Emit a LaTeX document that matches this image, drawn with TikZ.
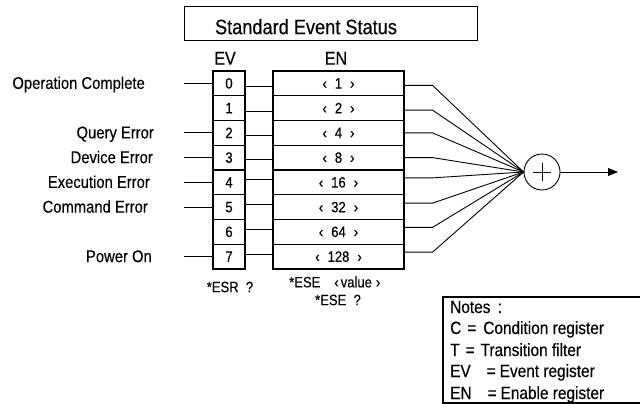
\documentclass[tikz,border=0pt]{standalone}
\usepackage{fontspec}
\setmainfont{Liberation Sans}[FakeStretch=0.87,FakeBold=0.3]
\usetikzlibrary{arrows.meta}
\newcommand{\enlab}[1]{‹\hspace{8pt}#1\hspace{8pt}›}
\begin{document}
\begin{tikzpicture}[x=1pt,y=-1pt,
  wire/.style={line width=0.9pt},
  evbox/.style={draw, line width=1.1pt, minimum width=32pt, minimum height=24.75pt, inner sep=0pt, font=\fontsize{15}{15}\selectfont},
  enbox/.style={evbox, minimum width=131pt},
  lab/.style={anchor=base east, inner sep=0pt, font=\fontsize{17}{18}\selectfont},
  head/.style={inner sep=0pt, font=\fontsize{18.5}{19}\selectfont},
  small/.style={inner sep=0pt, font=\fontsize{15}{16}\selectfont},
  note/.style={anchor=base west, inner sep=0pt, font=\fontsize{17.7}{18}\selectfont}]
\useasboundingbox (0,0) rectangle (640,404);
% title
\node[draw, line width=0.8pt, minimum width=293pt, minimum height=34pt, inner sep=0pt] (titlebox) at (330.5,23.7) {};
\node[inner sep=0pt, font=\fontsize{20.9}{21}\selectfont] (title) at (306,26.7) {Standard Event Status};
\node[head] (evh) at (225,58.3) {EV};
\node[head] (enh) at (336,58.3) {EN};
% registers
\foreach \i in {0,...,7} \node[evbox] (ev\i) at (229,{71+24.75*(\i+0.5)}) {\i};
\foreach \i/\v in {0/1,1/2,2/4,3/8,4/16,5/32,6/64,7/128}
  \node[enbox] (en\i) at (338.5,{71+24.75*(\i+0.5)}) {\enlab{\v}};
% inputs
\foreach \i/\t/\x in {0/Operation Complete/145,2/Query Error/154,3/Device Error/153,4/Execution Error/150,5/Command Error/148,7/Power On/152}{
  \coordinate (in\i) at (184,{71+24.75*(\i+0.5)});
  \draw[wire] (in\i) -- (ev\i.west);
  \node[lab] (lab\i) at (\x,{71+24.75*(\i+0.5)+5.5}) {\t};
}
% EV -> EN
\foreach \i/\s in {0/-3.5,1/-3.5,2/-3,3/-2,4/2.5,5/2.5,6/2.5,7/2}
  \draw[wire] ([yshift=\s pt]ev\i.east) -- ([yshift=\s pt]en\i.west);
% summation
\node[circle, draw, line width=0.9pt, minimum size=36pt, inner sep=0pt] (sum) at (542,172) {};
\draw[wire] ([xshift=-9pt]sum.center) -- ([xshift=9pt]sum.center);
\draw[wire] ([yshift=-9pt]sum.center) -- ([yshift=9pt]sum.center);
\foreach \i/\s in {0/-2,1/-2,2/0,3/0,4/4.5,5/4,6/4.5,7/4.5}
  \draw[wire] ([yshift=\s pt]en\i.east) -- ++(28,0) -- (sum.west);
\coordinate (out) at (618,172);
\draw[wire, -{Triangle[length=10pt,width=8pt]}] (sum.east) -- (out);
% queries
\node[small] (esrq) at (230,287) {*ESR\ \ ?};
\node[small, anchor=west] (esev) at (289,282) {*ESE\hspace{14pt}‹\hspace{2pt}value\hspace{4pt}›};
\node[small] (eseq) at (338,300) {*ESE\ \ ?};
% notes
\draw[line width=1.3pt] (443,297) rectangle (660,403);
\draw[line width=2pt] (443,296.4) -- (443,403.6);
\node[note] (n0) at (450,313) {Notes\ \,:};
\node[note] (n1) at (450,334) {C\hspace{6pt}=\hspace{7pt}Condition register};
\node[note] (n2) at (450,356) {T\hspace{6pt}=\hspace{6pt}Transition filter};
\node[note] (n3) at (450,377) {EV\hspace{16pt}=\hspace{4pt}Event register};
\node[note] (n4) at (450,399) {EN\hspace{16pt}=\hspace{4pt}Enable register};
\end{tikzpicture}
\end{document}
